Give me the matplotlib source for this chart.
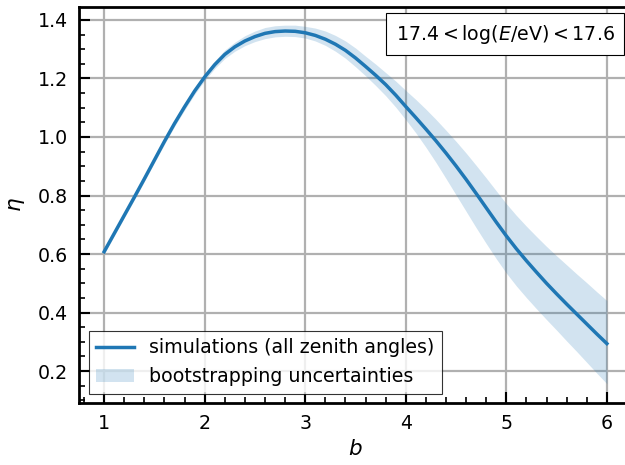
import numpy as np
import matplotlib.pyplot as plt
from matplotlib.ticker import MultipleLocator

# eta vs b for 17.4 < log(E/eV) < 17.6, sampled every 0.1 in b
b = [1.0, 1.1, 1.2, 1.3, 1.4, 1.5, 1.6, 1.7, 1.8, 1.9,
     2.0, 2.1, 2.2, 2.3, 2.4, 2.5, 2.6, 2.7, 2.8, 2.9,
     3.0, 3.1, 3.2, 3.3, 3.4, 3.5, 3.6, 3.7, 3.8, 3.9,
     4.0, 4.1, 4.2, 4.3, 4.4, 4.5, 4.6, 4.7, 4.8, 4.9,
     5.0, 5.1, 5.2, 5.3, 5.4, 5.5, 5.6, 5.7, 5.8, 5.9, 6.0]
eta = [0.608, 0.670, 0.732, 0.794, 0.857, 0.921, 0.985, 1.046, 1.103, 1.157,
       1.205, 1.247, 1.282, 1.308, 1.328, 1.343, 1.354, 1.360, 1.362, 1.361,
       1.356, 1.347, 1.334, 1.317, 1.296, 1.270, 1.241, 1.211, 1.179, 1.143,
       1.104, 1.066, 1.027, 0.987, 0.945, 0.901, 0.855, 0.807, 0.758, 0.709,
       0.662, 0.618, 0.577, 0.538, 0.500, 0.464, 0.429, 0.395, 0.361, 0.327,
       0.294]
# bootstrap spread above / below the central curve
err_up = [0.008, 0.008, 0.008, 0.009, 0.009, 0.009, 0.010, 0.010, 0.011, 0.011,
          0.012, 0.013, 0.015, 0.016, 0.018, 0.019, 0.020, 0.020, 0.020, 0.021,
          0.022, 0.025, 0.028, 0.030, 0.032, 0.034, 0.035, 0.038, 0.041, 0.048,
          0.055, 0.062, 0.068, 0.073, 0.078, 0.084, 0.090, 0.096, 0.102, 0.107,
          0.110, 0.114, 0.118, 0.122, 0.126, 0.130, 0.134, 0.137, 0.141, 0.144,
          0.147]
err_down = [0.008, 0.008, 0.008, 0.009, 0.009, 0.009, 0.010, 0.010, 0.011, 0.011,
            0.012, 0.013, 0.014, 0.015, 0.016, 0.017, 0.018, 0.018, 0.018, 0.018,
            0.018, 0.019, 0.021, 0.024, 0.027, 0.030, 0.032, 0.035, 0.038, 0.041,
            0.045, 0.052, 0.062, 0.074, 0.087, 0.099, 0.109, 0.117, 0.122, 0.125,
            0.127, 0.127, 0.126, 0.125, 0.124, 0.124, 0.126, 0.128, 0.131, 0.134,
            0.137]

eta = np.array(eta)
eta_hi = eta + np.array(err_up)
eta_lo = eta - np.array(err_down)

plt.rcParams['font.size'] = 13.7

fig = plt.figure(figsize=(6.25, 4.65), dpi=100)
ax = fig.add_axes([0.1264, 0.1333, 0.8848, 0.8516])

ax.fill_between(b, eta_lo, eta_hi, color='#1f77b4', alpha=0.2, linewidth=0,
                label='bootstrapping uncertainties')
ax.plot(b, eta, color='#1f77b4', linewidth=2.5,
        label='simulations (all zenith angles)')

ax.set_xlim(0.75, 6.25)
ax.set_ylim(0.091, 1.444)
ax.xaxis.set_major_locator(MultipleLocator(1))
ax.xaxis.set_minor_locator(MultipleLocator(0.2))
ax.yaxis.set_major_locator(MultipleLocator(0.2))
ax.yaxis.set_minor_locator(MultipleLocator(0.05))
ax.tick_params(which='both', direction='in', top=False, right=False)
ax.tick_params(which='major', length=8, width=1.5, labelsize=13.7, pad=8)
ax.tick_params(which='minor', length=4, width=1.2)
for s in ax.spines.values():
    s.set_linewidth(2)

ax.grid(True, which='major', color='#b0b0b0', linewidth=1.6)
ax.set_axisbelow(True)

ax.set_xlabel('$b$', fontsize=15.5)
ax.set_ylabel(r'$\eta$', fontsize=15.5, labelpad=8)

ax.text(0.9685, 0.96, r'$17.4 < \log(E/\mathrm{eV}) < 17.6$',
        transform=ax.transAxes, ha='right', va='top', fontsize=13.7,
        bbox=dict(boxstyle='square,pad=0.5', facecolor='white',
                  edgecolor='black', linewidth=0.8))

h, l = ax.get_legend_handles_labels()
leg = ax.legend(h[::-1], l[::-1], loc='lower left', fontsize=13.7,
                fancybox=False, edgecolor='black', framealpha=0.8,
                borderaxespad=0.5, handlelength=2.0)
leg.get_frame().set_linewidth(0.8)

fig.savefig('out.png', dpi=100)
